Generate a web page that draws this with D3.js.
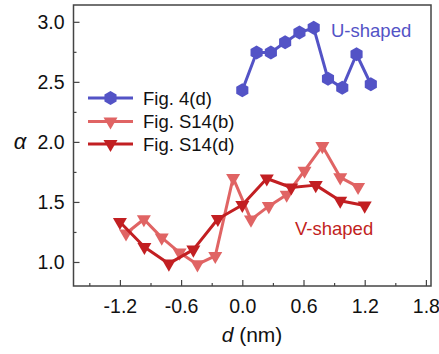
<!DOCTYPE html>
<html>
<head>
<meta charset="utf-8">
<script src="https://cdn.jsdelivr.net/npm/d3@7"></script>
<style>
  body { margin: 0; background: #fff; }
  svg text { font-family: "Liberation Sans", Arial, sans-serif; }
</style>
</head>
<body>
<svg id="chart" width="439" height="354"></svg>
<script>
// series
var uX = [0.0, 0.14, 0.28, 0.42, 0.56, 0.70, 0.84, 0.98, 1.12, 1.26];
var uY = [2.43, 2.745, 2.745, 2.83, 2.91, 2.95, 2.525, 2.45, 2.73, 2.48];

var bX = [-1.14, -0.965, -0.79, -0.615, -0.44, -0.265, -0.09, 0.085, 0.26, 0.435, 0.61, 0.785, 0.96, 1.135];
var bY = [1.237, 1.356, 1.203, 1.078, 0.98, 1.05, 1.70, 1.353, 1.465, 1.56, 1.76, 1.965, 1.705, 1.625];

var dX = [-1.2, -0.96, -0.72, -0.48, -0.24, 0.0, 0.24, 0.48, 0.72, 0.96, 1.2];
var dY = [1.333, 1.125, 0.986, 1.103, 1.358, 1.475, 1.695, 1.62, 1.64, 1.51, 1.47];

var xTicks = [-1.2, -0.6, 0.0, 0.6, 1.2, 1.8];
var xMinor = [-1.5, -0.9, -0.3, 0.3, 0.9, 1.5];
var yTicks = [1.0, 1.5, 2.0, 2.5, 3.0];
var yMinor = [1.25, 1.75, 2.25, 2.75];

var legendNames = ["Fig. 4(d)", "Fig. S14(b)", "Fig. S14(d)"];

var blue = "#5353c6", lightRed = "#e06464", darkRed = "#c21f22";

var svg = d3.select("#chart");
var margin = {left: 73.5, top: 5, right: 8, bottom: 68};
var width = 439 - margin.left - margin.right;
var height = 354 - margin.top - margin.bottom;

var x = d3.scaleLinear().domain([-1.655, 1.85]).range([0, width]);
var y = d3.scaleLinear().domain([0.8, 3.14]).range([height, 0]);

var g = svg.append("g").attr("transform", "translate(" + margin.left + "," + margin.top + ")");

// minor ticks first
g.append("g").attr("transform", "translate(0," + height + ")")
    .call(d3.axisBottom(x).tickValues(xMinor).tickSize(-3).tickFormat(""))
    .call(function (a) { a.select(".domain").remove(); });
g.append("g")
    .call(d3.axisLeft(y).tickValues(yMinor).tickSize(-3).tickFormat(""))
    .call(function (a) { a.select(".domain").remove(); });

var xAxis = g.append("g").attr("transform", "translate(0," + height + ")")
    .call(d3.axisBottom(x).tickValues(xTicks).tickSize(-6).tickPadding(13)
        .tickFormat(function (d) { return d3.format(".1f")(d).replace("\u2212", "-"); }));
xAxis.select(".domain").remove();
var yAxis = g.append("g")
    .call(d3.axisLeft(y).tickValues(yTicks).tickSize(-6).tickPadding(9).tickFormat(d3.format(".1f")));
yAxis.select(".domain").remove();

g.selectAll(".tick line").attr("stroke", "#444").attr("stroke-width", 1.2);
g.selectAll(".tick text").attr("font-size", 19.5).attr("fill", "#111");

// frame
g.append("rect").attr("width", width).attr("height", height)
    .attr("fill", "none").attr("stroke", "#444").attr("stroke-width", 1.5);

// marker shapes
function hexPath(r) {
    var pts = d3.range(6).map(function (i) {
        var a = Math.PI / 6 + i * Math.PI / 3;
        return [r * Math.cos(a), r * Math.sin(a)];
    });
    return "M" + pts.join("L") + "Z";
}
function triDown(s) {
    var h = s * Math.sqrt(3) / 2;
    return "M" + (-s / 2) + "," + (-h / 3) + "L" + (s / 2) + "," + (-h / 3) + "L0," + (2 * h / 3) + "Z";
}

var line = d3.line().x(function (d) { return x(d[0]); }).y(function (d) { return y(d[1]); });

function drawSeries(xs, ys, color, shape) {
    var pts = d3.zip(xs, ys);
    g.append("path").datum(pts).attr("d", line)
        .attr("fill", "none").attr("stroke", color).attr("stroke-width", 3).attr("stroke-linejoin", "round");
    g.selectAll(null).data(pts).enter().append("path")
        .attr("d", shape)
        .attr("transform", function (d) { return "translate(" + x(d[0]) + "," + y(d[1]) + ")"; })
        .attr("fill", color);
}

drawSeries(bX, bY, lightRed, triDown(14));
drawSeries(dX, dY, darkRed, triDown(14));
drawSeries(uX, uY, blue, hexPath(7));

// legend
var legend = svg.append("g");
var legColors = [blue, lightRed, darkRed];
var legShapes = [hexPath(7), triDown(14), triDown(14)];
var legY = [98, 121.5, 144];
legendNames.forEach(function (name, i) {
    legend.append("line").attr("x1", 88).attr("x2", 133).attr("y1", legY[i]).attr("y2", legY[i])
        .attr("stroke", legColors[i]).attr("stroke-width", 3);
    legend.append("path").attr("d", legShapes[i])
        .attr("transform", "translate(110.5," + legY[i] + ")").attr("fill", legColors[i]);
    legend.append("text").attr("x", 143).attr("y", legY[i] + 6.5)
        .attr("font-size", 18.5).attr("fill", "#111").text(name);
});

// annotations
svg.append("text").attr("x", 331).attr("y", 37).attr("font-size", 18.5)
    .attr("fill", blue).text("U-shaped");
svg.append("text").attr("x", 295).attr("y", 235).attr("font-size", 18.5)
    .attr("fill", darkRed).text("V-shaped");

// axis titles
svg.append("text").attr("x", 20).attr("y", 149).attr("font-size", 22)
    .attr("font-style", "italic").attr("text-anchor", "middle")
    .attr("fill", "#111").text("\u03b1");
var xt = svg.append("text").attr("x", 252).attr("y", 342).attr("font-size", 21)
    .attr("text-anchor", "middle").attr("fill", "#111");
xt.append("tspan").attr("font-style", "italic").text("d");
xt.append("tspan").text(" (nm)");
</script>
</body>
</html>
